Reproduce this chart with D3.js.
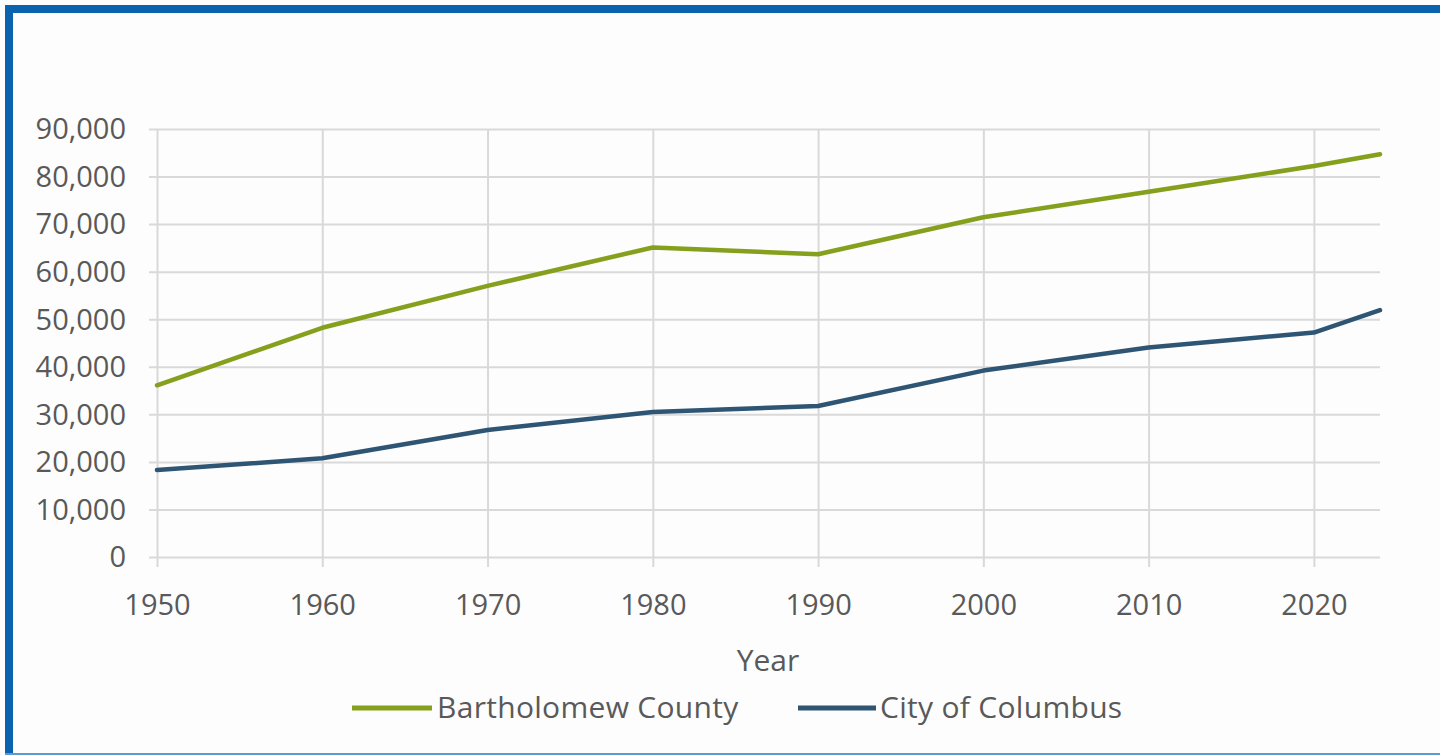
<!DOCTYPE html>
<html>
<head>
<meta charset="utf-8">
<script src="https://cdn.jsdelivr.net/npm/d3@7"></script>
<style>
  html, body { margin: 0; padding: 0; background: #fdfdfd; }
  svg { display: block; }
  text { font-family: "Open Sans", "DejaVu Sans", sans-serif; fill: #595959; }
</style>
</head>
<body>
<svg id="chart" width="1440" height="755"></svg>
<script>
// Population, Bartholomew County vs. City of Columbus
const years = [1950, 1960, 1970, 1980, 1990, 2000, 2010, 2020, 2024];
const bartholomew = [36108, 48198, 57022, 65088, 63657, 71435, 76794, 82208, 84700];
const columbus = [18300, 20750, 26700, 30500, 31750, 39200, 44050, 47200, 51900];
const seriesNames = ["Bartholomew County", "City of Columbus"];
const seriesColors = ["#84a01c", "#2e5574"];
const xTicks = [1950, 1960, 1970, 1980, 1990, 2000, 2010, 2020];
const yTicks = [0, 10000, 20000, 30000, 40000, 50000, 60000, 70000, 80000, 90000];
const xTitle = "Year";

const svg = d3.select("#chart");
const W = 1440, H = 755;

// frame
svg.append("rect").attr("x", 0).attr("y", 0).attr("width", W).attr("height", H).attr("fill", "#fdfdfd");
svg.append("rect").attr("x", 5).attr("y", 5).attr("width", W - 5).attr("height", 8).attr("fill", "#0b62ae");
svg.append("rect").attr("x", 5).attr("y", 5).attr("width", 8).attr("height", H - 5).attr("fill", "#0b62ae");
svg.append("rect").attr("x", 5).attr("y", 753).attr("width", W - 5).attr("height", 2).attr("fill", "#5b9bd5");

const x = d3.scaleLinear().domain([1950, 2024]).range([157, 1380]);
const y = d3.scaleLinear().domain([0, 90000]).range([557, 129]);

const grid = "#d9d9d9";

// horizontal gridlines with y labels
const yAxis = d3.axisLeft(y).tickValues(yTicks).tickSize(x.range()[1] - x.range()[0] + 8)
  .tickFormat(d3.format(",")).tickPadding(24);
const gy = svg.append("g").attr("transform", `translate(${x.range()[1]},0)`).call(yAxis);
gy.select(".domain").remove();
gy.selectAll(".tick line").attr("stroke", grid).attr("stroke-width", 2);
gy.selectAll(".tick text").attr("font-size", 29).attr("fill", "#595959")
  .attr("x", x.range()[0] - x.range()[1] - 31).attr("dy", "0.34em");

// vertical gridlines with x labels
const xAxis = d3.axisBottom(x).tickValues(xTicks).tickSize(-(y.range()[0] - y.range()[1]))
  .tickFormat(d3.format("d"));
const gx = svg.append("g").attr("transform", `translate(0,${y.range()[0]})`).call(xAxis);
gx.select(".domain").remove();
gx.selectAll(".tick line").attr("stroke", grid).attr("stroke-width", 2)
  .attr("y1", 10).attr("y2", -(y.range()[0] - y.range()[1]));
gx.selectAll(".tick text").attr("font-size", 29).attr("fill", "#595959").attr("y", 48).attr("dy", "0.34em");

// axis title
svg.append("text").attr("x", 768).attr("y", 671).attr("text-anchor", "middle")
  .attr("font-size", 30).text(xTitle);

// lines
const line = d3.line().x((d, i) => x(years[i])).y(d => y(d));
[bartholomew, columbus].forEach((s, k) => {
  svg.append("path").datum(s).attr("d", line).attr("fill", "none")
    .attr("stroke", seriesColors[k]).attr("stroke-width", 4.5)
    .attr("stroke-linejoin", "round").attr("stroke-linecap", "round");
});

// legend
const legendItems = [{ x: 352, lx2: 432, tx: 437 }, { x: 798, lx2: 876, tx: 880 }];
legendItems.forEach((it, k) => {
  svg.append("line").attr("x1", it.x).attr("x2", it.lx2).attr("y1", 708).attr("y2", 708)
    .attr("stroke", seriesColors[k]).attr("stroke-width", 5);
  svg.append("text").attr("x", it.tx).attr("y", 718).attr("font-size", 30)
    .attr("letter-spacing", 0.3).text(seriesNames[k]);
});
</script>
</body>
</html>
